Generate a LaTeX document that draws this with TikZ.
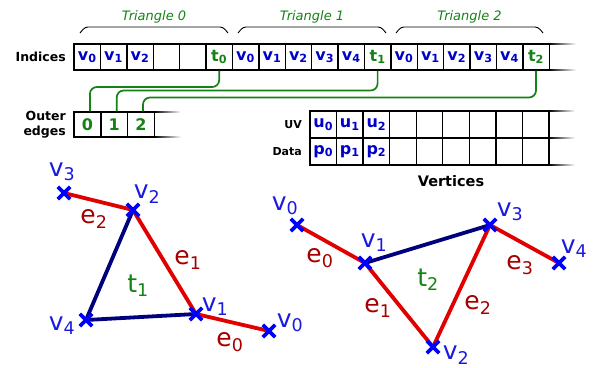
\documentclass[tikz,border=0pt]{standalone}
\usepackage{fontspec}
\setmainfont{DejaVu Sans}
\usetikzlibrary{positioning,shapes.misc}

\definecolor{vblue}{RGB}{0,0,200}
\definecolor{mblue}{RGB}{0,0,255}
\definecolor{lblue}{RGB}{25,25,225}
\definecolor{tgreen}{RGB}{20,130,20}
\definecolor{ered}{RGB}{225,0,0}
\definecolor{ecol}{RGB}{165,0,0}
\definecolor{navy}{RGB}{0,0,125}

\newcommand{\cv}[1]{\textcolor{vblue}{v\textsubscript{#1}}}
\newcommand{\ct}[1]{\textcolor{tgreen}{t\textsubscript{#1}}}
\newcommand{\cu}[1]{\textcolor{vblue}{u\textsubscript{#1}}}
\newcommand{\cp}[1]{\textcolor{vblue}{p\textsubscript{#1}}}

\begin{document}
\begin{tikzpicture}[x=1pt, y=-1pt,
  cell/.style={draw, line width=1.4pt, minimum width=26.4pt, minimum height=26pt,
    inner sep=0pt, font=\fontsize{16}{18}\selectfont\bfseries},
  hdr/.style={font=\fontsize{12.5}{15}\selectfont\bfseries, inner sep=0pt},
  trilab/.style={text=tgreen, font=\fontsize{13}{15}\selectfont\itshape},
  brace/.style={line width=0.9pt, rounded corners=3pt},
  link/.style={draw=tgreen, line width=1.7pt, rounded corners=7pt},
  redge/.style={draw=ered, line width=3.8pt},
  bedge/.style={draw=navy, line width=3.8pt},
  vmark/.style={cross out, draw=mblue, line width=3.8pt, minimum size=8.5pt, inner sep=0pt},
  vlab/.style={text=lblue, font=\fontsize{25}{28}\selectfont, inner sep=0pt},
  elab/.style={text=ecol, font=\fontsize{25}{28}\selectfont, inner sep=0pt},
  tlab/.style={text=tgreen, font=\fontsize{25}{28}\selectfont, inner sep=0pt}]
  \useasboundingbox (0,0) rectangle (594,367);

  % Index buffer
  \foreach \lab [count=\i] in {\cv0,\cv1,\cv2,{},{},\ct0,\cv0,\cv1,\cv2,\cv3,\cv4,\ct1,\cv0,\cv1,\cv2,\cv3,\cv4,\ct2}
    \node (ix\i) at ({74+(\i-0.5)*26.4},57) [cell] {\lab};
  \foreach \y in {44,70}
    \shade[left color=black, right color=white] (549.2,\y-0.7) rectangle (576,\y+0.7);
  \node (indices) at (66,57) [hdr, anchor=east] {Indices};

  % Triangle braces
  \foreach \a/\b/\n in {80/228/0, 238/386/1, 396/543/2} {
    \draw[brace] (\a,33) -- (\a+5,27) -- (\b-5,27) -- (\b,33);
    \node (tri\n) at ({(\a+\b)/2},17) [trilab] {Triangle \n};
  }

  % Outer edges
  \foreach \lab [count=\i] in {0,1,2}
    \node (oe\i) at ({74+(\i-0.5)*26.8},124.5) [cell, minimum width=26.8pt, minimum height=25pt, text=tgreen] {\lab};
  \foreach \y in {112,137}
    \shade[left color=black, right color=white] (154.4,\y-0.7) rectangle (181,\y+0.7);
  \node (outer) at (66,125) [hdr, anchor=east, align=right] {Outer\\edges};

  \draw[link] (ix6.south) -- (ix6.south |- 0,87) -| ([xshift=2.5pt]oe1.north);
  \draw[link] (ix12.south) -- (ix12.south |- 0,90.5) -| ([xshift=2.5pt]oe2.north);
  \draw[link] (ix18.south) -- (ix18.south |- 0,97.5) -| ([xshift=2pt]oe3.north);

  % Vertex buffer
  \foreach \a/\b [count=\i] in {\cu0/\cp0, \cu1/\cp1, \cu2/\cp2, /, /, /, /, /, /} {
    \node (uv\i) at ({310+(\i-0.5)*26.55},124.5) [cell, minimum width=26.55pt, minimum height=27pt] {\a};
    \node (vd\i) at ({310+(\i-0.5)*26.55},151.5) [cell, minimum width=26.55pt, minimum height=27pt] {\b};
  }
  \foreach \y in {111,138,165}
    \shade[left color=black, right color=white] (549,\y-0.7) rectangle (575,\y+0.7);
  \node (uvlab) at (302,124.5) [hdr, anchor=east, font=\fontsize{11}{13}\selectfont\bfseries] {UV};
  \node (datalab) at (302,151.5) [hdr, anchor=east, font=\fontsize{11}{13}\selectfont\bfseries] {Data};
  \node (vertlab) at (451,181) [hdr, font=\fontsize{14.5}{16}\selectfont\bfseries] {Vertices};

  % Triangle 1 with its neighbours
  \coordinate (a0) at (269,331);
  \coordinate (a1) at (196,314);
  \coordinate (a2) at (133,210);
  \coordinate (a3) at (64,193);
  \coordinate (a4) at (86,320);
  \draw[bedge] (a2) -- (a4) -- (a1);
  \draw[redge] (a3) -- (a2);
  \draw[redge] (a2) -- (a1);
  \draw[redge] (a1) -- (a0);
  \foreach \p in {a0,a1,a2,a3,a4}
    \node (m\p) at (\p) [vmark] {};
  \node (la0) at (290,323) [vlab] {v\textsubscript{0}};
  \node (la1) at (215,307) [vlab] {v\textsubscript{1}};
  \node (la2) at (147,194) [vlab] {v\textsubscript{2}};
  \node (la3) at (62,172) [vlab] {v\textsubscript{3}};
  \node (la4) at (62,326) [vlab] {v\textsubscript{4}};
  \node (ea0) at (230,342) [elab] {e\textsubscript{0}};
  \node (ea1) at (188,260) [elab] {e\textsubscript{1}};
  \node (ea2) at (94,219) [elab] {e\textsubscript{2}};
  \node (ta) at (138,286) [tlab] {t\textsubscript{1}};

  % Triangle 2 with its neighbours
  \coordinate (b0) at (297,225);
  \coordinate (b1) at (365,263);
  \coordinate (b2) at (433,347);
  \coordinate (b3) at (490,225);
  \coordinate (b4) at (559,263);
  \draw[bedge] (b1) -- (b3);
  \draw[redge] (b0) -- (b1);
  \draw[redge] (b1) -- (b2);
  \draw[redge] (b2) -- (b3);
  \draw[redge] (b3) -- (b4);
  \foreach \p in {b0,b1,b2,b3,b4}
    \node (m\p) at (\p) [vmark] {};
  \node (lb0) at (285,206) [vlab] {v\textsubscript{0}};
  \node (lb1) at (374,243) [vlab] {v\textsubscript{1}};
  \node (lb2) at (456,355) [vlab] {v\textsubscript{2}};
  \node (lb3) at (510,212) [vlab] {v\textsubscript{3}};
  \node (lb4) at (574,249) [vlab] {v\textsubscript{4}};
  \node (eb0) at (320,258) [elab] {e\textsubscript{0}};
  \node (eb1) at (378,308) [elab] {e\textsubscript{1}};
  \node (eb2) at (478,305) [elab] {e\textsubscript{2}};
  \node (eb3) at (520,265) [elab] {e\textsubscript{3}};
  \node (tb) at (428,280) [tlab] {t\textsubscript{2}};
\end{tikzpicture}
\end{document}
